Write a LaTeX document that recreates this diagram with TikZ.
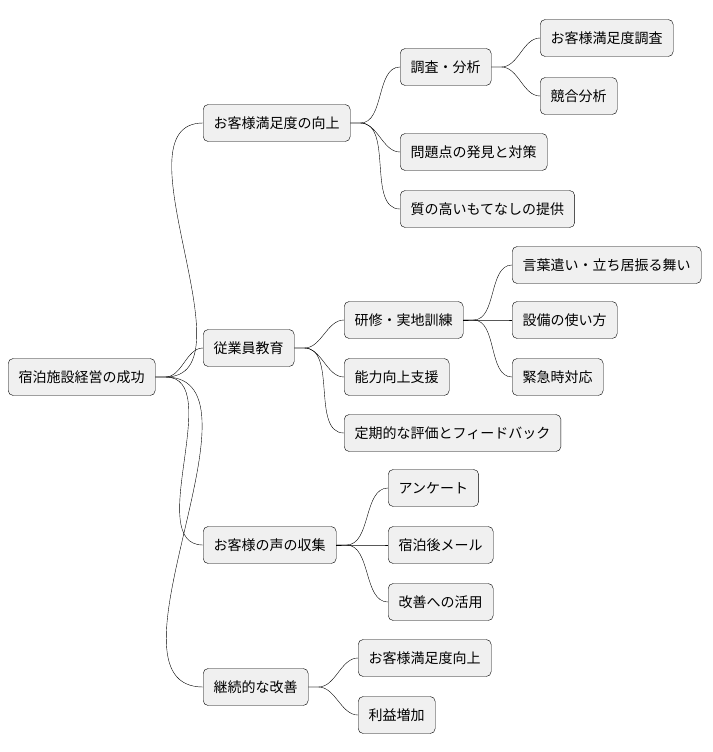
\documentclass[tikz,border=0pt]{standalone}
\usepackage{fontspec}
\setmainfont{Noto Sans CJK JP}
\usetikzlibrary{positioning}

\begin{document}
\begin{tikzpicture}[
    x=1pt, y=-1pt,
    topic/.style={draw=black, fill=gray!12, rounded corners=5pt, anchor=west, minimum height=37pt, inner xsep=10.5pt, font=\fontsize{14}{16}\selectfont},
    link/.style={thin, looseness=0.9}
]
    \useasboundingbox (0,0) rectangle (712,752);

    \node[topic] (root) at (8,377) {宿泊施設経営の成功};

    \node[topic] (satisfy) at (203,123) {お客様満足度の向上};
    \node[topic] (staff)   at (203,348) {従業員教育};
    \node[topic] (voice)   at (203,545) {お客様の声の収集};
    \node[topic] (improve) at (203,687) {継続的な改善};

    \node[topic] (survey)   at (400,67)  {調査・分析};
    \node[topic] (problem)  at (400,152) {問題点の発見と対策};
    \node[topic] (hospital) at (400,209) {質の高いもてなしの提供};
    \node[topic] (csurvey)  at (540,38)  {お客様満足度調査};
    \node[topic] (rival)    at (540,96)  {競合分析};

    \node[topic] (train)    at (344,320) {研修・実地訓練};
    \node[topic] (skill)    at (344,377) {能力向上支援};
    \node[topic] (review)   at (344,433) {定期的な評価とフィードバック};
    \node[topic] (manner)   at (512,265) {言葉遣い・立ち居振る舞い};
    \node[topic] (equip)    at (512,320) {設備の使い方};
    \node[topic] (emerg)    at (512,377) {緊急時対応};

    \node[topic] (enquete)  at (388,488) {アンケート};
    \node[topic] (mail)     at (388,545) {宿泊後メール};
    \node[topic] (apply)    at (388,602) {改善への活用};

    \node[topic] (csup)     at (358,658) {お客様満足度向上};
    \node[topic] (profit)   at (358,715) {利益増加};

    % connectors
    \foreach \p/\c in {root/satisfy, root/staff, root/voice, root/improve,
        satisfy/survey, satisfy/problem, satisfy/hospital,
        survey/csurvey, survey/rival,
        staff/train, staff/skill, staff/review,
        train/manner, train/equip, train/emerg,
        voice/enquete, voice/mail, voice/apply,
        improve/csup, improve/profit}
        \draw[link] (\p.east) -- ++(10,0) to[out=0, in=180] (\c.west);
\end{tikzpicture}
\end{document}
